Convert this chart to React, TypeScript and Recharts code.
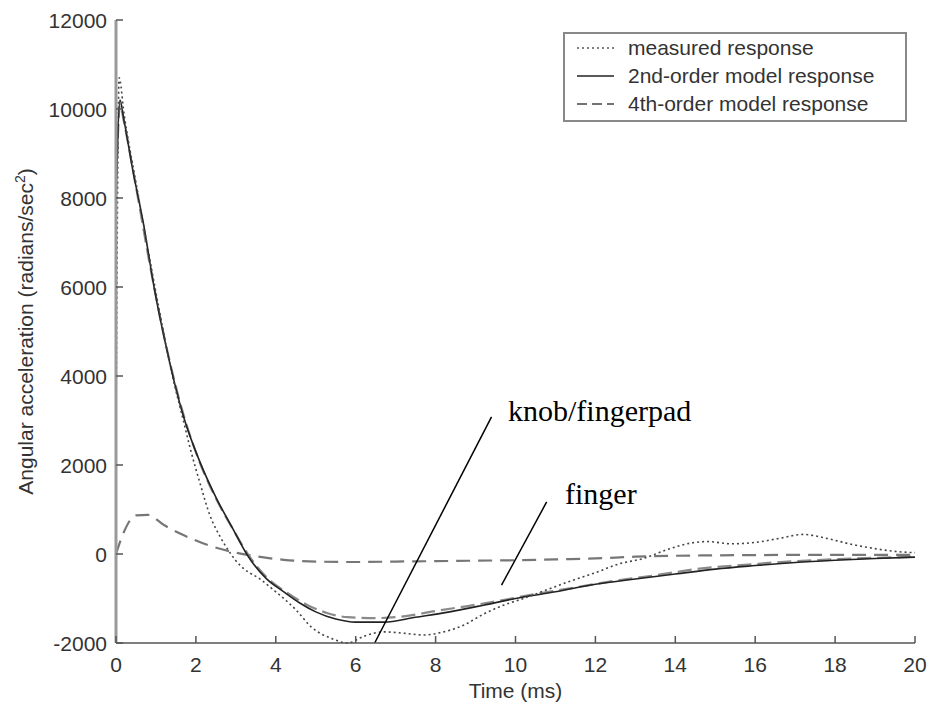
import React from "react";
import {
  LineChart,
  Line,
  XAxis,
  YAxis,
  ReferenceLine,
} from "recharts";

// time axis (ms) and responses (radians/sec^2)
const measuredT = [0, 0.08, 0.2, 0.5, 0.8, 1.1, 1.4, 1.7, 1.85, 2.1, 2.35, 2.6, 2.8, 3.0, 3.2, 3.6, 4.0, 4.5, 4.9, 5.4, 5.8, 6.2, 6.7, 7.2, 7.7, 8.2, 8.7, 9.2, 9.7, 10.2, 10.8, 11.4, 12.0, 12.6, 13.2, 13.8, 14.3, 14.8, 15.4, 16.0, 16.6, 17.2, 17.8, 18.4, 19.0, 19.6, 20.0];
const measuredV = [2700, 10700, 9900, 8350, 6850, 5400, 4050, 2950, 2400, 1600, 870, 400, 100, -150, -330, -560, -850, -1250, -1650, -1900, -2000, -1850, -1750, -1780, -1820, -1750, -1600, -1350, -1150, -1000, -800, -600, -420, -220, -100, 100, 230, 280, 230, 260, 350, 440, 350, 220, 120, 50, 30];

const secondT = [0, 0.1, 0.2, 0.43, 0.68, 0.96, 1.27, 1.68, 2.1, 2.52, 2.93, 3.27, 3.77, 4.2, 4.6, 5.0, 5.5, 6.0, 6.7, 7.5, 8.35, 9.2, 10.0, 11.0, 12.0, 13.0, 14.0, 15.0, 16.0, 17.0, 18.0, 19.0, 20.0];
const secondV = [7900, 10200, 9750, 8580, 7460, 5960, 4600, 3120, 2070, 1240, 560, 0, -560, -850, -1100, -1300, -1460, -1530, -1530, -1420, -1300, -1150, -1000, -850, -680, -560, -450, -340, -260, -190, -140, -100, -70];

// 4th-order model: knob/fingerpad component
const knobT = [0, 0.1, 0.2, 0.5, 0.9, 1.3, 1.7, 2.1, 2.5, 2.9, 3.3, 3.8, 4.3, 4.8, 5.3, 5.8, 6.5, 7.2, 8.0, 8.8, 9.6, 10.5, 11.5, 12.5, 13.5, 14.5, 15.5, 16.5, 17.5, 18.5, 19.5, 20.0];
const knobV = [8000, 10100, 9700, 8250, 6250, 4500, 3100, 2050, 1250, 600, 0, -550, -880, -1150, -1330, -1420, -1440, -1400, -1280, -1170, -1050, -900, -750, -600, -480, -340, -260, -190, -140, -100, -75, -65];

// 4th-order model: finger component
const fingerT = [0, 0.2, 0.5, 0.8, 1.2, 1.7, 2.3, 2.9, 3.5, 4.2, 5.0, 6.0, 7.0, 8.0, 9.0, 10.0, 11.0, 12.0, 13.0, 14.0, 15.0, 16.0, 17.0, 18.0, 19.0, 20.0];
const fingerV = [0, 500, 870, 880, 650, 420, 200, 50, -50, -130, -170, -180, -170, -160, -150, -140, -120, -100, -60, -40, -30, -25, -20, -20, -20, -20];

const xTicks = [0, 2, 4, 6, 8, 10, 12, 14, 16, 18, 20];
const yTicks = [-2000, 0, 2000, 4000, 6000, 8000, 10000, 12000];

const toRows = (t: number[], v: number[]) => t.map((x, i) => ({ t: x, v: v[i] }));

const measuredData = toRows(measuredT, measuredV);
const secondData = toRows(secondT, secondV);
const knobData = toRows(knobT, knobV);
const fingerData = toRows(fingerT, fingerV);

const FONT = "'Liberation Sans', Arial, sans-serif";
const TEXT = "#333";

const YTick = (props: any) => {
  const { x, y, payload } = props;
  return (
    <g>
      <line x1={x + 9} x2={x + 16} y1={y} y2={y} stroke="#555" strokeWidth={1.5} />
      <text x={x} y={y} dy={7.5} textAnchor="end" fontFamily={FONT} fontSize={21} fill={TEXT}>
        {payload.value}
      </text>
    </g>
  );
};

const XTick = (props: any) => {
  const { x, y, payload } = props;
  return (
    <g>
      <line x1={x} x2={x} y1={y - 8} y2={y - 15} stroke="#555" strokeWidth={1.5} />
      <text x={x} y={y} dy={21} textAnchor="middle" fontFamily={FONT} fontSize={21} fill={TEXT}>
        {payload.value}
      </text>
    </g>
  );
};

const legendItems = [
  { label: "measured response", dash: "2 3", color: "#555", width: 1.5 },
  { label: "2nd-order model response", dash: undefined, color: "#222", width: 1.5 },
  { label: "4th-order model response", dash: "10 5", color: "#444", width: 1.5 },
];

export default function App() {
  return (
    <div style={{ position: "absolute", left: 0, top: 0, width: 929, height: 706, background: "#fff" }}>
      <LineChart width={929} height={706} margin={{ top: 20, right: 14, bottom: 0, left: 0 }}>
        <XAxis
          type="number"
          dataKey="t"
          domain={[0, 20]}
          ticks={xTicks}
          height={63}
          tickLine={false}
          tickSize={0}
          tickMargin={8}
          tick={<XTick />}
          axisLine={{ stroke: "#555", strokeWidth: 1.5 }}
          label={{ value: "Time (ms)", position: "insideBottom", offset: 8, fontFamily: FONT, fontSize: 21, fill: TEXT }}
        />
        <YAxis
          type="number"
          domain={[-2000, 12000]}
          ticks={yTicks}
          width={116}
          tickLine={false}
          tickSize={0}
          tickMargin={9}
          tick={<YTick />}
          axisLine={{ stroke: "#9a9a9a", strokeWidth: 3 }}
          label={{
            content: ({ viewBox }: any) => {
              const cy = viewBox.y + viewBox.height / 2;
              return (
                <text
                  x={33}
                  y={cy}
                  transform={`rotate(-90 33 ${cy})`}
                  textAnchor="middle"
                  fontFamily={FONT}
                  fontSize={21}
                  fill={TEXT}
                >
                  Angular acceleration (radians/sec
                  <tspan dy={-8} fontSize={14}>2</tspan>
                  <tspan dy={8}>)</tspan>
                </text>
              );
            },
          }}
        />
        <Line data={fingerData} dataKey="v" type="monotone" stroke="#777" strokeWidth={2.2} strokeDasharray="14 8" dot={false} isAnimationActive={false} />
        <Line data={knobData} dataKey="v" type="monotone" stroke="#8a8a8a" strokeWidth={2.2} strokeDasharray="14 6" dot={false} isAnimationActive={false} />
        <Line data={secondData} dataKey="v" type="monotone" stroke="#222" strokeWidth={1.6} dot={false} isAnimationActive={false} />
        <Line data={measuredData} dataKey="v" type="monotone" stroke="#444" strokeWidth={1.6} strokeDasharray="2 3" dot={false} isAnimationActive={false} />
        <ReferenceLine segment={[{ x: 9.4, y: 3080 }, { x: 6.475, y: -2000 }]} stroke="#000" strokeWidth={1.5} ifOverflow="visible" />
        <ReferenceLine segment={[{ x: 10.78, y: 1170 }, { x: 9.65, y: -700 }]} stroke="#000" strokeWidth={1.5} ifOverflow="visible" />
      </LineChart>

      <div style={{ position: "absolute", left: 508, top: 393, fontFamily: "'Liberation Serif', 'Times New Roman', serif", fontSize: 30, lineHeight: "36px", color: "#000" }}>
        knob/fingerpad
      </div>
      <div style={{ position: "absolute", left: 565, top: 476, fontFamily: "'Liberation Serif', 'Times New Roman', serif", fontSize: 30, lineHeight: "36px", color: "#000" }}>
        finger
      </div>

      <div
        style={{
          position: "absolute",
          left: 563,
          top: 32,
          width: 340,
          height: 86,
          border: "2px solid #888",
          background: "#fff",
          boxSizing: "content-box",
        }}
      >
        {legendItems.map((item, i) => (
          <div key={item.label} style={{ position: "absolute", left: 0, top: 0 + i * 28, height: 28, width: 340 }}>
            <svg width={50} height={28} style={{ position: "absolute", left: 10, top: 0 }}>
              <line x1={2} x2={39} y1={14} y2={14} stroke={item.color} strokeWidth={item.width} strokeDasharray={item.dash} />
            </svg>
            <span
              style={{
                position: "absolute",
                left: 63,
                top: 0,
                lineHeight: "28px",
                fontFamily: FONT,
                fontSize: 21,
                color: TEXT,
                whiteSpace: "nowrap",
              }}
            >
              {item.label}
            </span>
          </div>
        ))}
      </div>
    </div>
  );
}
